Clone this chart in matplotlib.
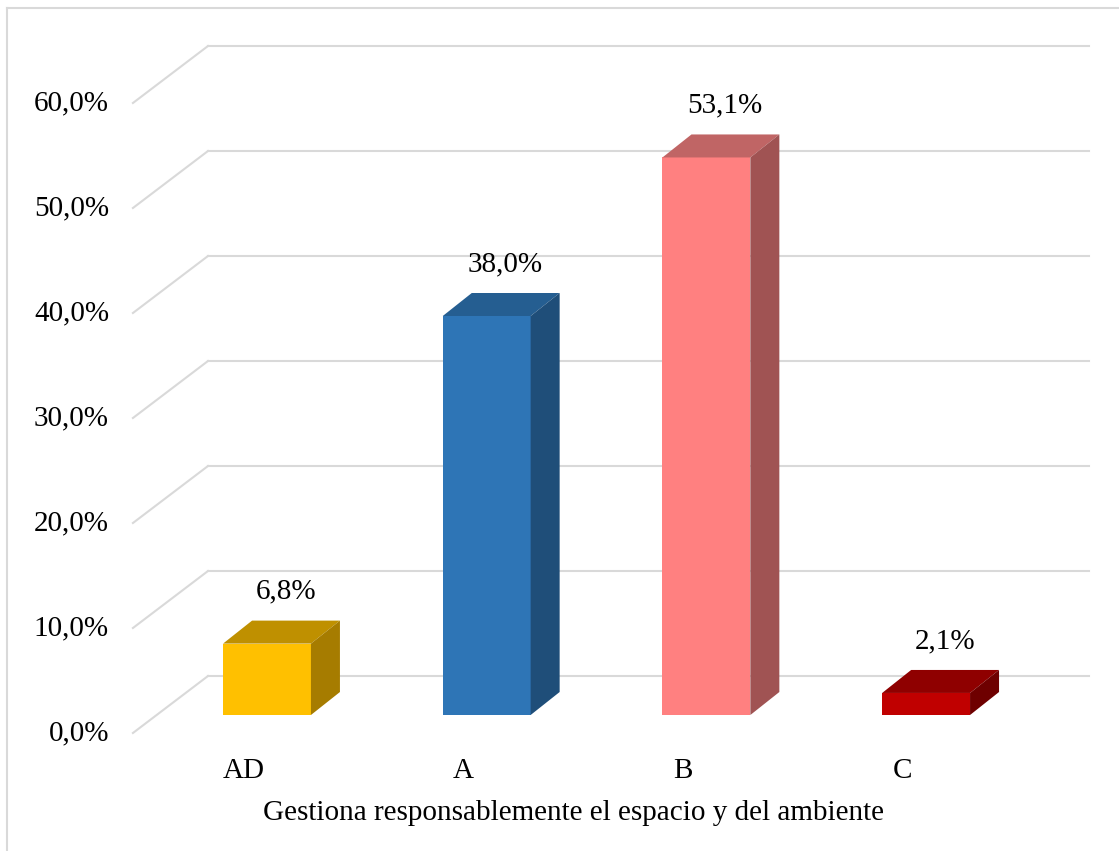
import matplotlib.pyplot as plt
from matplotlib.lines import Line2D

CATEGORIES = ['AD', 'A', 'B', 'C']
VALUES = [6.8, 38.0, 53.1, 2.1]
VALUE_LABELS = ['6,8%', '38,0%', '53,1%', '2,1%']
TICKS = [0, 10, 20, 30, 40, 50, 60]
TICK_LABELS = ['0,0%', '10,0%', '20,0%', '30,0%', '40,0%', '50,0%', '60,0%']
XLABEL = 'Gestiona responsablemente el espacio y del ambiente'

FRONT = ['#FFC000', '#2E75B6', '#FF8080', '#C00000']
TOP = ['#BF9000', '#255E91', '#C06565', '#8F0000']
SIDE = ['#A67C00', '#1F4E79', '#A05353', '#6E0000']

GRID = '#D9D9D9'
FONT = 'Liberation Serif'
FS = 21

# pseudo-3D geometry, in data units (x = category, y = percent)
BAR_W = 0.40
DX, DY = 0.132, 2.19            # bar depth
FLOOR_FX, FLOOR_FY = -0.108, -1.714   # front edge of the floor
WALL_BX, WALL_BY = 0.2336, 3.714      # back wall
GRID_LEFT = -0.2686
GRID_RIGHT = 3.741

fig = plt.figure(figsize=(11.19, 8.51), dpi=100)
ax = fig.add_axes([0, 0, 1, 1])
ax.set_xlim(-1.2153, 3.878)
ax.set_ylim(-12.952, 68.095)
ax.axis('off')

# back wall gridlines + the slanted side wall lines
for t, lab in zip(TICKS, TICK_LABELS):
    yb = t + WALL_BY
    ax.plot([GRID_LEFT, GRID_RIGHT], [yb, yb], color=GRID, lw=1.5, zorder=1)
    x0 = GRID_LEFT - (WALL_BX - FLOOR_FX)
    y0 = t + FLOOR_FY
    ax.plot([x0, GRID_LEFT], [y0, yb], color=GRID, lw=1.5, zorder=1)
    ax.text(-0.719, y0, lab, ha='right', va='center', fontsize=FS,
            family=FONT, color='#000000')

# bars: front, top and right side faces
for i, v in enumerate(VALUES):
    x0, x1 = i - BAR_W / 2, i + BAR_W / 2
    ax.fill([x0, x1, x1, x0], [0, 0, v, v], color=FRONT[i], lw=0, zorder=3)
    ax.fill([x0, x1, x1 + DX, x0 + DX], [v, v, v + DY, v + DY],
            color=TOP[i], lw=0, zorder=3)
    ax.fill([x1, x1 + DX, x1 + DX, x1], [0, DY, v + DY, v],
            color=SIDE[i], lw=0, zorder=3)
    ax.text(i + DX / 2 + 0.02, v + DY + 2.75, VALUE_LABELS[i], ha='center',
            va='center', fontsize=FS, family=FONT, zorder=4)
    ax.text(i + FLOOR_FX, -5.3, CATEGORIES[i], ha='center', va='center',
            fontsize=FS, family=FONT)

ax.text(1.395, -9.3, XLABEL, ha='center', va='center', fontsize=FS,
        family=FONT)

# chart area border
fig.add_artist(Line2D([0.0063, 0.0063], [0, 0.9906], color=GRID, lw=1.5,
                      transform=fig.transFigure))
fig.add_artist(Line2D([0.0063, 1], [0.9906, 0.9906], color=GRID, lw=1.5,
                      transform=fig.transFigure))

fig.savefig('out.png', dpi=100, facecolor='white')
